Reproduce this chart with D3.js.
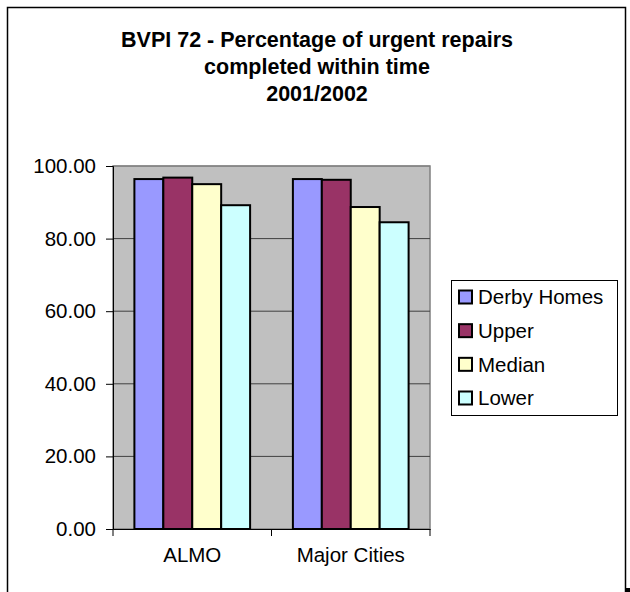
<!DOCTYPE html>
<html><head><meta charset="utf-8">
<script src="https://cdn.jsdelivr.net/npm/d3@7"></script>
<style>body{margin:0;background:#fff}svg{display:block}text{font-family:"Liberation Sans",Arial,sans-serif}</style>
</head><body>
<svg id="c" width="630" height="592"></svg>
<script>
const categories = ["ALMO", "Major Cities"];
const seriesNames = ["Derby Homes", "Upper", "Median", "Lower"];
const derbyHomes = [96.4, 96.4];
const upper = [96.8, 96.2];
const median = [95.0, 88.7];
const lower = [89.2, 84.5];
const yTicks = [0, 20, 40, 60, 80, 100];
const titleLines = ["BVPI 72 - Percentage of urgent repairs", "completed within time", "2001/2002"];
const colors = ["#9999ff", "#993366", "#ffffcc", "#ccffff"];

const seriesValues = [derbyHomes, upper, median, lower];
const svg = d3.select("#c");

// outer frame
svg.append("rect").attr("x", 7.5).attr("y", 7.5).attr("width", 618).attr("height", 600)
  .attr("fill", "#fff").attr("stroke", "#000").attr("stroke-width", 1.5);
svg.append("rect").attr("x", 626).attr("y", 588).attr("width", 4).attr("height", 4).attr("fill", "#000");

const plot = {left: 113, right: 430, top: 166, bottom: 529};
const x0 = d3.scaleBand().domain(categories).range([plot.left, plot.right]).paddingInner(0.27).paddingOuter(0.135);
const x1 = d3.scaleBand().domain(seriesNames).range([0, x0.bandwidth()]);
const y = d3.scaleLinear().domain([0, 100]).range([plot.bottom, plot.top]);

// plot area
svg.append("rect").attr("x", plot.left).attr("y", plot.top)
  .attr("width", plot.right - plot.left).attr("height", plot.bottom - plot.top)
  .attr("fill", "#c0c0c0").attr("stroke", "#808080").attr("stroke-width", 1.5);

// gridlines
svg.append("g").selectAll("line").data(yTicks.filter(d => d > 0)).join("line")
  .attr("x1", plot.left).attr("x2", plot.right)
  .attr("y1", d => y(d)).attr("y2", d => y(d))
  .attr("stroke", d => d === 100 ? "#808080" : "#404040").attr("stroke-width", 1);

// bars
const g = svg.append("g");
categories.forEach((c, ci) => {
  seriesNames.forEach((s, si) => {
    const v = seriesValues[si][ci];
    g.append("rect")
      .attr("x", x0(c) + x1(s)).attr("y", y(v))
      .attr("width", x1.bandwidth()).attr("height", y(0) - y(v))
      .attr("fill", colors[si]).attr("stroke", "#000").attr("stroke-width", 2);
  });
});

// y axis
const yAxis = d3.axisLeft(y).tickValues(yTicks).tickSize(7).tickPadding(10).tickFormat(d3.format(".2f"));
const ya = svg.append("g").attr("transform", `translate(${plot.left},0)`).call(yAxis);
ya.select(".domain").attr("stroke", "#000").attr("stroke-width", 1);
ya.selectAll(".tick line").attr("stroke", "#000");
ya.selectAll("text").attr("font-size", 20.5).attr("fill", "#000").attr("font-family", "Liberation Sans, Arial, sans-serif");

// x axis
const xAxis = d3.axisBottom(x0).tickSize(0).tickPadding(18);
const xa = svg.append("g").attr("transform", `translate(0,${plot.bottom})`).call(xAxis);
xa.select(".domain").attr("stroke", "#000").attr("stroke-width", 1);
xa.selectAll("text").attr("font-size", 20.5).attr("fill", "#000").attr("font-family", "Liberation Sans, Arial, sans-serif");
// category separator ticks
const sepX = [plot.left, (plot.left + plot.right) / 2, plot.right];
svg.append("g").selectAll("line").data(sepX).join("line")
  .attr("x1", d => d).attr("x2", d => d).attr("y1", plot.bottom).attr("y2", plot.bottom + 7)
  .attr("stroke", "#000");

// title
svg.append("text").attr("text-anchor", "middle").attr("font-weight", "bold").attr("font-size", 21.5)
  .selectAll("tspan").data(titleLines).join("tspan")
  .attr("x", 317).attr("y", (d, i) => 47 + i * 27).text(d => d);

// legend
const lg = svg.append("g");
lg.append("rect").attr("x", 451.5).attr("y", 280.5).attr("width", 166).attr("height", 135)
  .attr("fill", "#fff").attr("stroke", "#000").attr("stroke-width", 1);
const rowY = d3.scalePoint().domain(seriesNames).range([297, 398]);
seriesNames.forEach((s, i) => {
  lg.append("rect").attr("x", 459).attr("y", rowY(s) - 6.5).attr("width", 13).attr("height", 13)
    .attr("fill", colors[i]).attr("stroke", "#000").attr("stroke-width", 2);
  lg.append("text").attr("x", 478).attr("y", rowY(s)).attr("dy", "0.35em")
    .attr("font-size", 20.5).text(s);
});
</script>
</body></html>
